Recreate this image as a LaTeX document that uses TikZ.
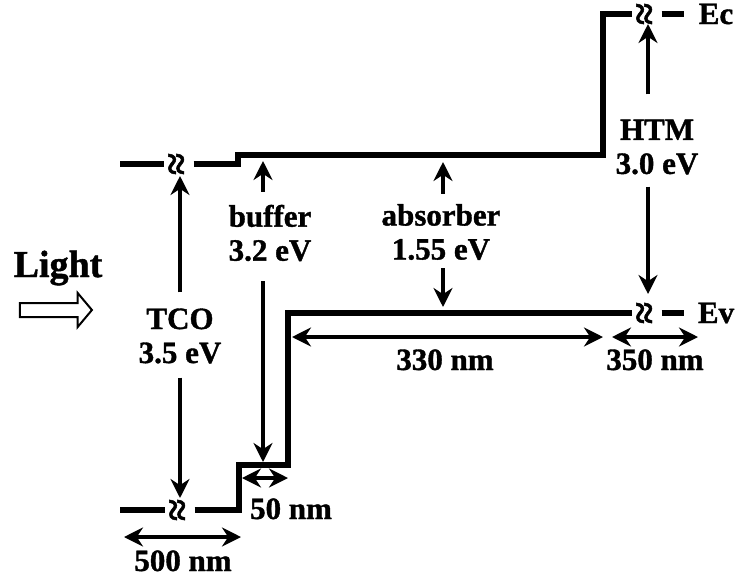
\documentclass[tikz,border=0pt]{standalone}
\usepackage{fontspec}
\setmainfont{Liberation Serif}[BoldFeatures={FakeBold=1.2}]
\usetikzlibrary{arrows.meta,shapes.arrows}
\begin{document}
\begin{tikzpicture}[x=1pt,y=-1pt,>={Stealth[length=19pt,width=19pt]},
                band/.style={line width=6.5pt},
                brk/.style={rotate=90,inner sep=0pt,outer sep=4pt,font=\fontsize{40}{40}\selectfont\bfseries},
                lab/.style={align=center,inner sep=0pt,font=\fontsize{31}{34}\selectfont\bfseries},
                arr/.style={line width=4pt,->},
                dim/.style={line width=4pt,<->}]
                \useasboundingbox (0,0) rectangle (736,579);
                \coordinate (c1) at (120,164);
                \coordinate (c4) at (238,164);
                \coordinate (c5) at (238,155);
                \coordinate (c6) at (603,155);
                \coordinate (c7) at (603,14);
                \coordinate (c10) at (684,14);
                \node[brk] (cg1) at (179,164) {≈};
                \node[brk] (cg2) at (647,14) {≈};
                \draw[band] (c1) -- (cg1);
                \draw[band] (cg1) -- (c4) -- (c5) -- (c6) -- (c7) -- (cg2);
                \draw[band] (cg2) -- (c10);
                \coordinate (v1) at (120,510);
                \coordinate (v4) at (239,510);
                \coordinate (v5) at (239,465);
                \coordinate (v6) at (288,465);
                \coordinate (v7) at (288,313);
                \coordinate (v10) at (684,313);
                \node[brk] (vg1) at (180,510) {≈};
                \node[brk] (vg2) at (647,313) {≈};
                \draw[band] (v1) -- (vg1);
                \draw[band] (vg1) -- (v4) -- (v5) -- (v6) -- (v7) -- (vg2);
                \draw[band] (vg2) -- (v10);
                \node[lab,anchor=base] (ec) at (716,24) {Ec};
                \node[lab,anchor=base] (ev) at (716,323) {Ev};
                \node[lab] (tco) at (180,336) {TCO\\3.5 eV};
                \node[lab] (buf) at (270,233) {buffer\\3.2 eV};
                \node[lab] (abs) at (441,232) {absorber\\1.55 eV};
                \node[lab] (htm) at (657,147) {HTM\\3.0 eV};
                \coordinate (tcot) at (180,176);
                \coordinate (tcob) at (180,498);
                \coordinate (buft) at (263,161);
                \coordinate (bufb) at (263,462);
                \coordinate (abst) at (443,162);
                \coordinate (absb) at (443,307);
                \coordinate (htmt) at (648,24);
                \coordinate (htmb) at (648,294);
                \draw[arr,shorten <=16pt] (tco) -- (tcot);
                \draw[arr,shorten <=14pt] (tco) -- (tcob);
                \draw[arr,shorten <=13pt] (buf.north -| buft) -- (buft);
                \draw[arr,shorten <=20pt] (buf.south -| bufb) -- (bufb);
                \draw[arr,shorten <=10pt] (abs.north -| abst) -- (abst);
                \draw[arr,shorten <=8pt] (abs.south -| absb) -- (absb);
                \draw[arr,shorten <=25pt] (htm.north -| htmt) -- (htmt);
                \draw[arr,shorten <=12pt] (htm.south -| htmb) -- (htmb);
                \coordinate (a1) at (124,537);
                \coordinate (a2) at (241,537);
                \coordinate (b1) at (242,478);
                \coordinate (b2) at (288,478);
                \coordinate (e1) at (292,337);
                \coordinate (e2) at (603,337);
                \coordinate (f1) at (612,337);
                \coordinate (f2) at (698,337);
                \draw[dim] (a1) -- (a2);
                \draw[dim] (b1) -- (b2);
                \draw[dim] (e1) -- (e2);
                \draw[dim] (f1) -- (f2);
                \node[lab,anchor=base] (n500) at (183,571) {500 nm};
                \node[lab,anchor=base] (n50) at (291,519) {50 nm};
                \node[lab,anchor=base] (n330) at (445,370) {330 nm};
                \node[lab,anchor=base] (n350) at (655,370) {350 nm};
                \node[lab,anchor=base,font=\fontsize{38}{38}\selectfont\bfseries] (light) at (58,277) {Light};
                \node[draw,single arrow,line width=2pt,inner sep=6pt,minimum height=72pt,
                    single arrow head extend=10pt,single arrow tip angle=100] (lightarr) at (53,310) {};
            \end{tikzpicture}
\end{document}
